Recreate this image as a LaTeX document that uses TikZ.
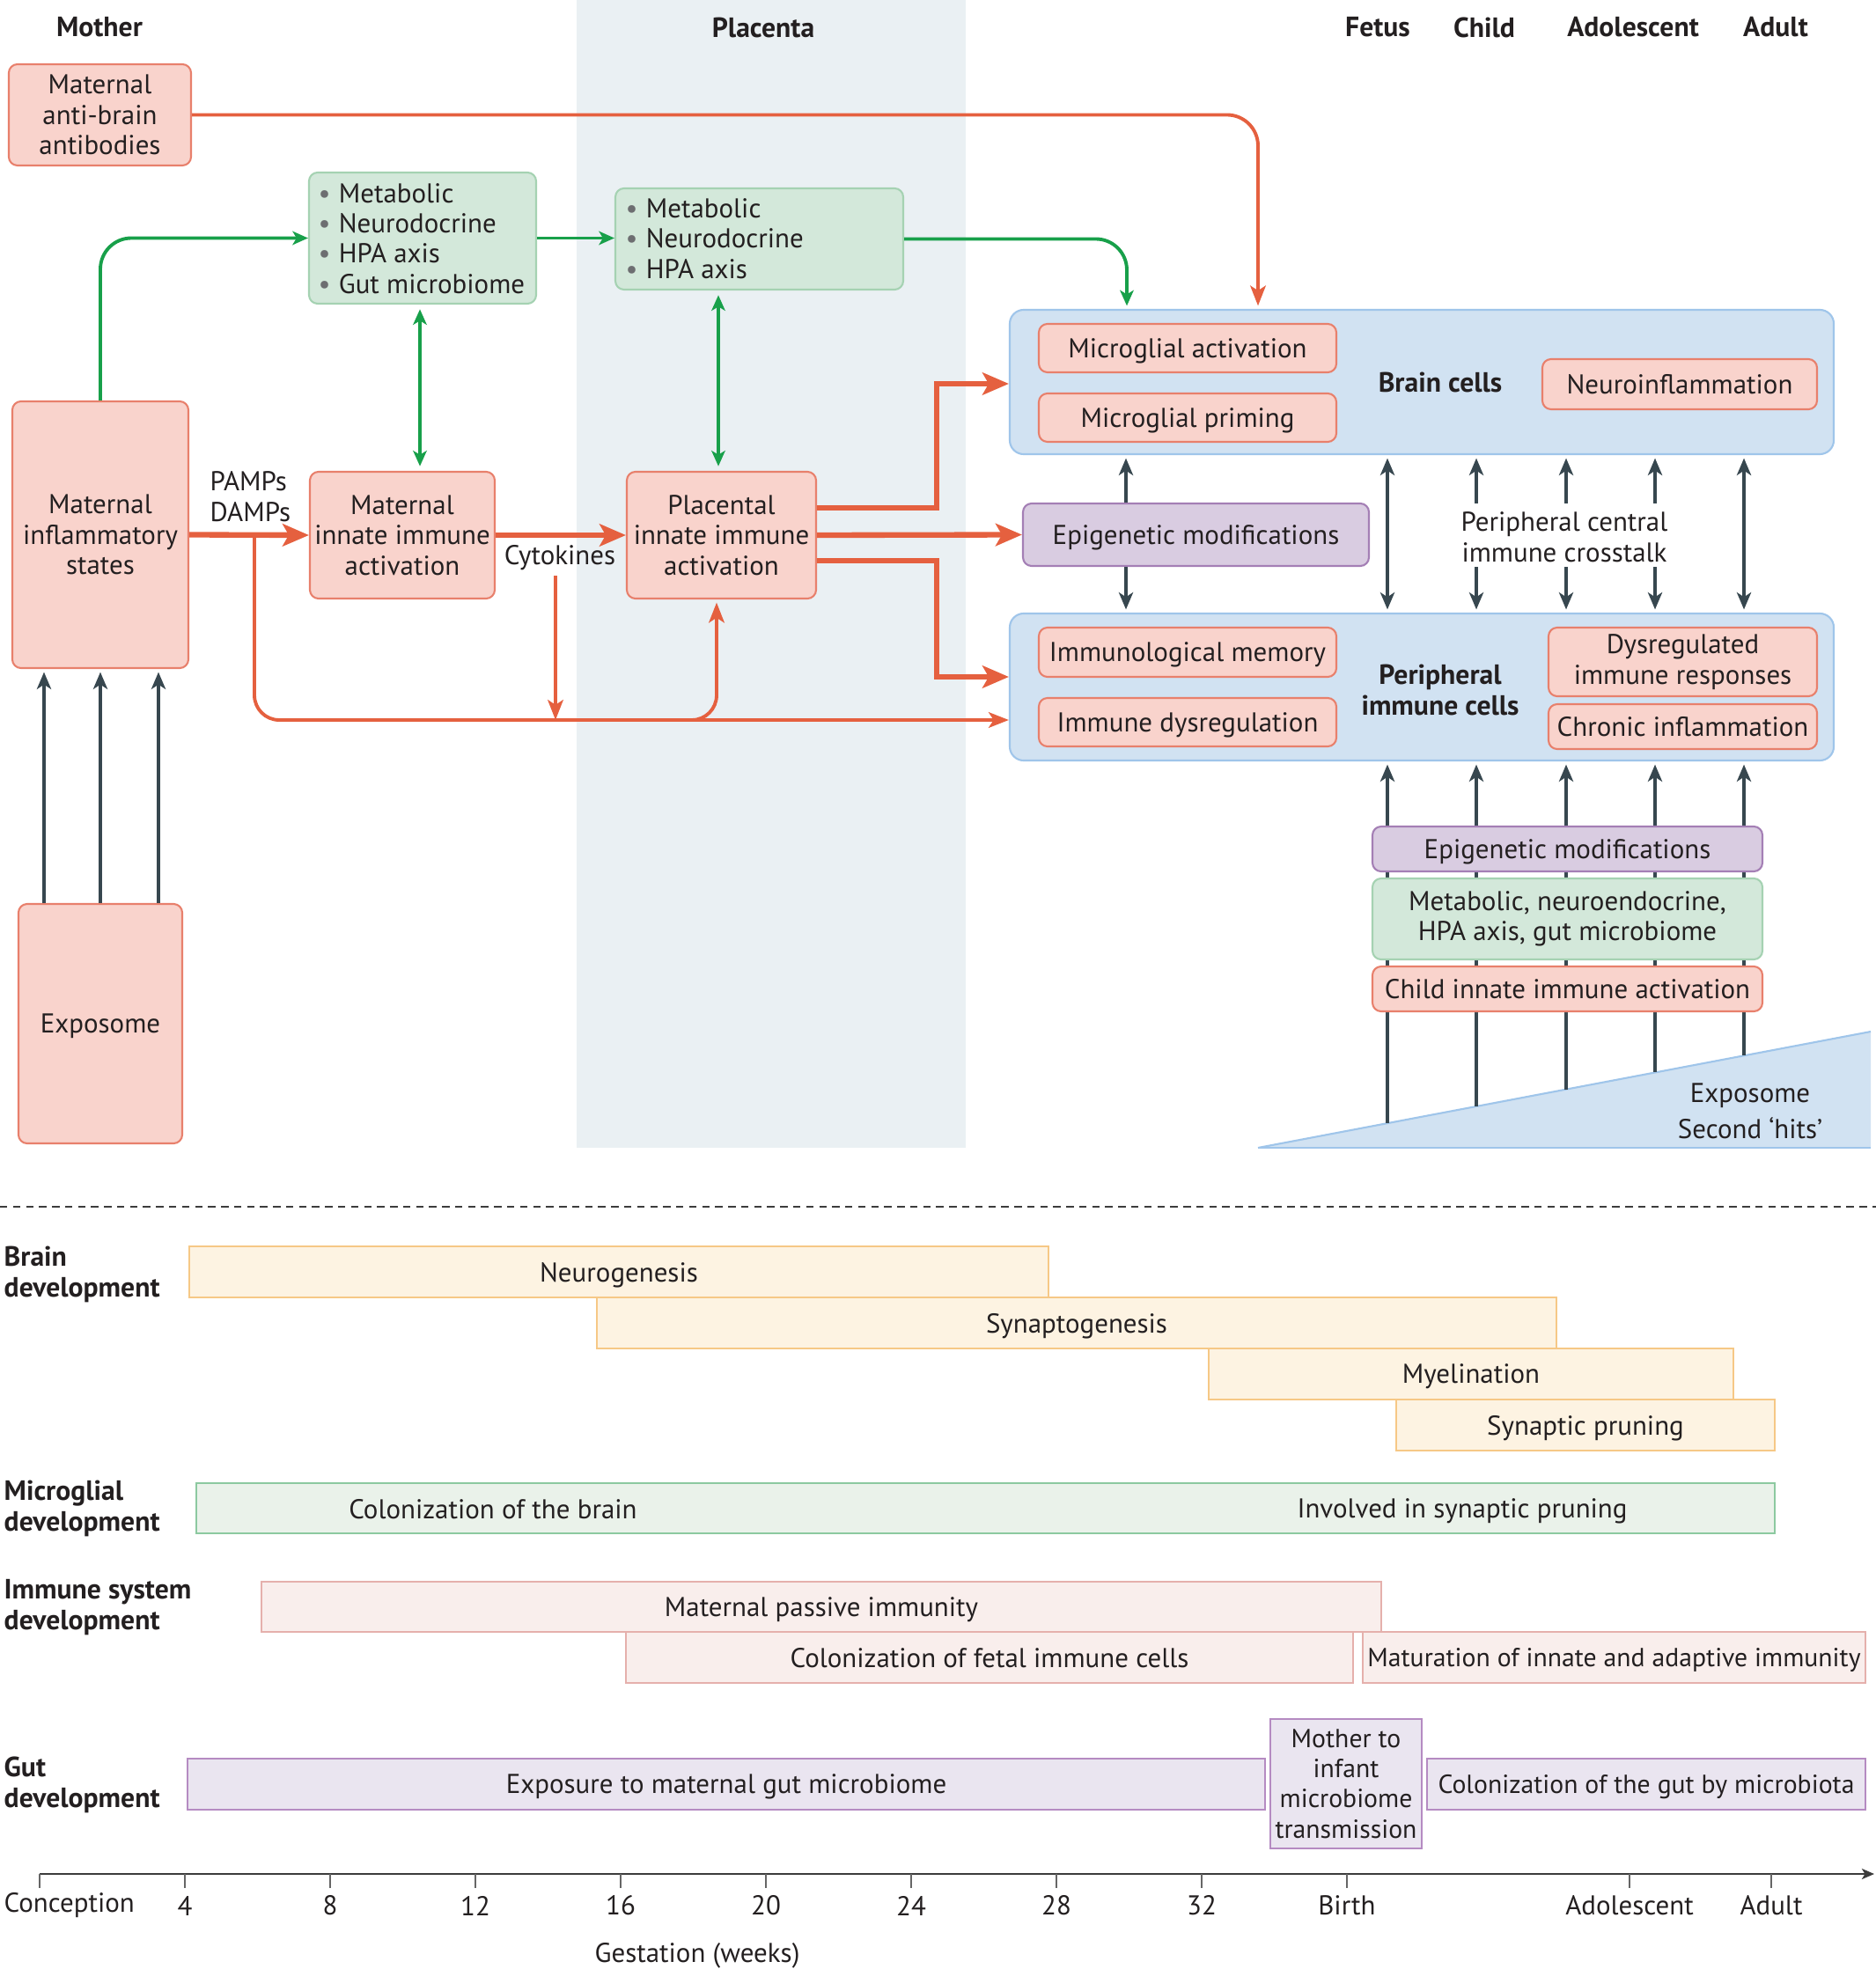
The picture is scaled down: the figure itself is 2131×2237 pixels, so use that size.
\documentclass[tikz,border=0pt]{standalone}
\usepackage{fontspec}
\setmainfont{PT Sans}
\usetikzlibrary{arrows.meta,calc}
\definecolor{txt}{HTML}{231F20}
\definecolor{pinkF}{HTML}{F9D3CC}
\definecolor{pinkD}{HTML}{E8806C}
\definecolor{greenF}{HTML}{D3E8DA}
\definecolor{greenD}{HTML}{A5D2B2}
\definecolor{purpF}{HTML}{D9CCE1}
\definecolor{purpD}{HTML}{A47FB5}
\definecolor{blueF}{HTML}{D1E2F2}
\definecolor{blueD}{HTML}{9FC5EA}
\definecolor{placF}{HTML}{EAF0F3}
\definecolor{redA}{HTML}{E5603F}
\definecolor{greenA}{HTML}{18A04A}
\definecolor{darkA}{HTML}{37474F}
\definecolor{creamF}{HTML}{FDF3E2}
\definecolor{creamD}{HTML}{F6C886}
\definecolor{mgF}{HTML}{EAF2EA}
\definecolor{mgD}{HTML}{8CC9A0}
\definecolor{imF}{HTML}{F9EEEC}
\definecolor{imD}{HTML}{E5B0AC}
\definecolor{gutF}{HTML}{EAE5F0}
\definecolor{gutD}{HTML}{B58BC2}
\definecolor{bulletc}{HTML}{6D6E71}
\definecolor{axisc}{HTML}{3C3C3C}
\newcommand\bodyfs{\fontsize{8.8}{9.8}\selectfont}
\newcommand\smallfs{\fontsize{8.45}{9.8}\selectfont}
\newcommand\hdrfs{\fontsize{9}{10}\selectfont\bfseries}
\newcommand\bul{{\color{bulletc}\textbullet}\hspace{2.6pt}}
% box node from corners: style, name, x1, y1, x2, y2, text
\newcommand\bx[7]{%
  \pgfmathsetmacro\bxcx{(#3+#5)/2}%
  \pgfmathsetmacro\bxcy{(#4+#6)/2}%
  \pgfmathsetmacro\bxw{(#5-#3)*0.01}%
  \pgfmathsetmacro\bxh{(#6-#4)*0.01}%
  \node[#1, minimum width=\bxw cm, minimum height=\bxh cm, anchor=center] (#2) at (\bxcx,\bxcy) {#7};}
\tikzset{
  rtipS/.tip={Stealth[length=6.5pt,width=5pt,inset=1.6pt]},
  rtipL/.tip={Stealth[length=8.5pt,width=7.2pt,inset=2pt]},
  gtip/.tip={Stealth[length=5pt,width=4.4pt,inset=1.3pt]},
  dtip/.tip={Stealth[length=5.5pt,width=4.6pt,inset=1.5pt]},
  atip/.tip={Stealth[length=4pt,width=3.4pt,inset=1pt]},
}
\begin{document}
\begin{tikzpicture}[x=0.01cm,y=-0.01cm,
  every node/.style={font=\bodyfs, text=txt, inner sep=0pt},
  box/.style={draw, rounded corners=2.8pt, align=center, line width=0.6pt},
  sl/.style={text depth=0pt},
  pinkbox/.style={box, fill=pinkF, draw=pinkD},
  greenbox/.style={box, fill=greenF, draw=greenD},
  purpbox/.style={box, fill=purpF, draw=purpD},
  bluebox/.style={box, fill=blueF, draw=blueD, rounded corners=4.5pt},
  hdr/.style={font=\hdrfs},
  catlbl/.style={font=\hdrfs, align=left, anchor=west},
  bar/.style={draw, line width=0.6pt, align=center},
  creambar/.style={bar, fill=creamF, draw=creamD},
  mgbar/.style={bar, fill=mgF, draw=mgD},
  imbar/.style={bar, fill=imF, draw=imD},
  gutbar/.style={bar, fill=gutF, draw=gutD},
  redthin/.style={draw=redA, line width=1.1pt, -rtipS},
  redthick/.style={draw=redA, line width=1.8pt, -rtipL},
  greenarr/.style={draw=greenA, line width=1.1pt, -gtip},
  darkarr/.style={draw=darkA, line width=1.2pt, -dtip},
  tick/.style={draw=gray!80!black, line width=0.5pt},
]
\useasboundingbox (0,0) rectangle (2131,2237);
% placenta band
\fill[placF] (655,0) rectangle (1097,1304);
% exposome triangle
\coordinate (tA) at (1429,1304);
\coordinate (tB) at (2125,1172);
\coordinate (tC) at (2125,1304);
\fill[blueF] (tA) -- (tB) -- (tC) -- cycle;
\draw[blueD, line width=0.6pt] (tA) -- (tB);
\draw[blueD, line width=0.6pt] (tA) -- (tC);
\node[align=center] (expo2) at (1988,1262) {Exposome\\[1.8pt]Second ‘hits’};

% headers
\node[hdr] (hMother) at (113,31) {Mother};
\node[hdr] (hPlacenta) at (867,31) {Placenta};
\node[hdr] (hFetus) at (1565,31) {Fetus};
\node[hdr] (hChild) at (1686,31) {Child};
\node[hdr] (hAdol) at (1855,31) {Adolescent};
\node[hdr] (hAdult) at (2017,31) {Adult};

% top boxes
\bx{pinkbox}{anti}{10}{73}{217}{188}{Maternal\\anti-brain\\antibodies}
\bx{greenbox}{g1}{351}{196}{609}{345}{}
\node[anchor=west, align=left] (g1t) at (361,271) {\bul Metabolic\\\bul Neurodocrine\\\bul HPA axis\\\bul Gut microbiome};
\bx{greenbox}{g2}{699}{214}{1026}{329}{}
\node[anchor=west, align=left] (g2t) at (710,271) {\bul Metabolic\\\bul Neurodocrine\\\bul HPA axis};
\bx{pinkbox}{infl}{14}{456}{214}{759}{Maternal\\inflammatory\\states}
\bx{pinkbox}{mia}{352}{536}{562}{680}{Maternal\\innate immune\\activation}
\bx{pinkbox}{pia}{712}{536}{927}{680}{Placental\\innate immune\\activation}
\bx{pinkbox,sl}{expo}{21}{1027}{207}{1299}{Exposome}
\node[anchor=west, align=left] (pamps) at (238,564) {PAMPs\\DAMPs};
\node (cyt) at (636,634) {Cytokines};

% brain cells
\bx{bluebox}{brain}{1147}{352}{2083}{516}{}
\bx{pinkbox,sl}{ma}{1180}{368}{1518}{423}{Microglial activation}
\bx{pinkbox,sl}{mp}{1180}{447}{1518}{502}{Microglial priming}
\bx{pinkbox,sl}{ni}{1752}{408}{2064}{465}{Neuroinflammation}
\node[hdr] (brainl) at (1636,434) {Brain cells};
\bx{purpbox,sl}{epi}{1162}{572}{1555}{643}{Epigenetic modifications}
% peripheral
\bx{bluebox}{periph}{1147}{697}{2083}{864}{}
\bx{pinkbox,sl}{im}{1180}{713}{1518}{769}{Immunological memory}
\bx{pinkbox,sl}{idys}{1180}{793}{1518}{848}{Immune dysregulation}
\bx{pinkbox}{dys}{1759}{713}{2064}{791}{Dysregulated\\immune responses}
\bx{pinkbox,sl}{chr}{1759}{800}{2064}{851}{Chronic inflammation}
\node[hdr, align=center] (periphl) at (1636,784) {Peripheral\\immune cells};
\node[align=center] (xtalk) at (1777,610) {Peripheral central\\immune crosstalk};

% coordinates
\coordinate (xA) at (1429,0);
\coordinate (xG) at (1280,0);
\coordinate (xg1) at (477,0);
\coordinate (xg2) at (816,0);
\coordinate (b1) at (289,607);
\coordinate (yb) at (0,818);
\coordinate (c2) at (740,818);
\coordinate (v2) at (814,0);
\coordinate (c3) at (631,654);
\coordinate (yU) at (0,577);
\coordinate (yL) at (0,637);
\coordinate (yB) at (0,436);
\coordinate (yI) at (0,769);
\coordinate (xr) at (1064,0);
\coordinate (x1) at (1279,0);
\coordinate (x2) at (1576,0);
\coordinate (x6) at (1981,0);
\coordinate (e1) at (50,0);
\coordinate (e2) at (114,0);
\coordinate (e3) at (180,0);

% green arrows
\draw[greenarr, rounded corners=10pt] (infl.north -| e2) |- (g1.west);
\draw[greenarr] (g1.east) -- (g2.west |- g1.east);
\draw[greenarr, rounded corners=10pt, shorten >=1pt] (g2.east) -| (brain.north -| xG);
\draw[greenarr, gtip-gtip, shorten >=1.5pt, shorten <=1.5pt] (g1.south -| xg1) -- (mia.north -| xg1);
\draw[greenarr, gtip-gtip, shorten >=1.5pt, shorten <=1.5pt] (g2.south -| xg2) -- (pia.north -| xg2);

% red arrows
\draw[redthin, rounded corners=10pt, shorten >=1pt] (anti.east) -| (brain.north -| xA);
\draw[redthin, rounded corners=8pt] (b1) |- (periph.west |- yb);
\draw[redthin, rounded corners=8pt, shorten >=1pt] (c2) -| (pia.south -| v2);
\draw[redthin] (c3) -- (c3 |- yb);
\draw[redthick] (infl.east) -- (mia.west);
\draw[redthick] (mia.east) -- (pia.west);
\draw[redthick] (pia.east |- yU) -| (xr |- yB) -- (brain.west |- yB);
\draw[redthick] (pia.east) -- (epi.west);
\draw[redthick] (pia.east |- yL) -| (xr |- yI) -- (periph.west |- yI);

% dark arrows brain-periph
\draw[darkarr, shorten >=1pt] (epi.north -| x1) -- (brain.south -| x1);
\draw[darkarr, shorten >=1pt] (epi.south -| x1) -- (periph.north -| x1);
\draw[darkarr, dtip-dtip, shorten >=1pt, shorten <=1pt] (brain.south -| x2) -- (periph.north -| x2);
\draw[darkarr, dtip-dtip, shorten >=1pt, shorten <=1pt] (brain.south -| x6) -- (periph.north -| x6);
\coordinate (u3) at (1677,572);
\coordinate (u4) at (1779,572);
\coordinate (u5) at (1880,572);
\coordinate (d3) at (1677,644);
\coordinate (d4) at (1779,644);
\coordinate (d5) at (1880,644);
\draw[darkarr, shorten >=1pt] (u3) -- (brain.south -| u3);
\draw[darkarr, shorten >=1pt] (u4) -- (brain.south -| u4);
\draw[darkarr, shorten >=1pt] (u5) -- (brain.south -| u5);
\draw[darkarr, shorten >=1pt] (d3) -- (periph.north -| d3);
\draw[darkarr, shorten >=1pt] (d4) -- (periph.north -| d4);
\draw[darkarr, shorten >=1pt] (d5) -- (periph.north -| d5);

% exposome arrows to maternal inflammatory
\draw[darkarr, shorten >=1pt] (expo.north -| e1) -- (infl.south -| e1);
\draw[darkarr, shorten >=1pt] (expo.north -| e2) -- (infl.south -| e2);
\draw[darkarr, shorten >=1pt] (expo.north -| e3) -- (infl.south -| e3);

% child arrows from exposome triangle
\coordinate (h1) at (1576,1276);
\coordinate (h2) at (1677,1257);
\coordinate (h3) at (1779,1238);
\coordinate (h4) at (1880,1218);
\coordinate (h5) at (1981,1199);
\draw[darkarr, shorten >=1pt] (h1) -- (periph.south -| h1);
\draw[darkarr, shorten >=1pt] (h2) -- (periph.south -| h2);
\draw[darkarr, shorten >=1pt] (h3) -- (periph.south -| h3);
\draw[darkarr, shorten >=1pt] (h4) -- (periph.south -| h4);
\draw[darkarr, shorten >=1pt] (h5) -- (periph.south -| h5);
\bx{purpbox,sl}{epi2}{1559}{939}{2002}{990}{Epigenetic modifications}
\bx{greenbox}{met}{1559}{998}{2002}{1090}{Metabolic, neuroendocrine,\\HPA axis, gut microbiome}
\bx{pinkbox,sl}{child}{1559}{1098}{2002}{1149}{Child innate immune activation}

% dashed separator
\coordinate (dl) at (0,1371);
\coordinate (dr) at (2131,1371);
\draw[axisc, line width=0.6pt, dash pattern=on 2.4pt off 1.8pt] (dl) -- (dr);

% category labels
\node[catlbl] (cBrain) at (4,1448) {Brain\\development};
\node[catlbl] (cMg) at (4,1714) {Microglial\\development};
\node[catlbl] (cIm) at (4,1826) {Immune system\\development};
\node[catlbl] (cGut) at (4,2028) {Gut\\development};

% bars
\bx{creambar,sl}{neuro}{215}{1416}{1191}{1474}{Neurogenesis}
\bx{creambar,sl}{synap}{678}{1474}{1768}{1532}{Synaptogenesis}
\bx{creambar,sl}{myel}{1373}{1532}{1969}{1590}{Myelination}
\bx{creambar,sl}{prun}{1586}{1590}{2016}{1648}{Synaptic pruning}
\bx{mgbar}{mglia}{223}{1685}{2016}{1742}{}
\node[sl] (mgt1) at (560,1714) {Colonization of the brain};
\node[sl] (mgt2) at (1661,1714) {Involved in synaptic pruning};
\bx{imbar,sl}{mpi}{297}{1797}{1569}{1854}{Maternal passive immunity}
\bx{imbar,sl}{cfi}{711}{1854}{1537}{1912}{Colonization of fetal immune cells}
\bx{imbar,sl,font=\smallfs}{mat}{1548}{1854}{2119}{1912}{Maturation of innate and adaptive immunity}
\bx{gutbar,sl}{expg}{213}{1998}{1437}{2056}{Exposure to maternal gut microbiome}
\bx{gutbar,font=\smallfs}{m2i}{1443}{1953}{1615}{2100}{Mother to\\infant\\microbiome\\transmission}
\bx{gutbar,sl,font=\smallfs}{colg}{1621}{1998}{2119}{2056}{Colonization of the gut by microbiota}

% axis
\coordinate (ax0) at (45,2129);
\coordinate (ax1) at (2129,2129);
\draw[axisc, line width=0.7pt, -atip] (ax0) -- (ax1);
\foreach \xx/\lab in {210/4,375/8,540/12,705/16,870/20,1035/24,1200/28,1365/32,1530/Birth,1851/Adolescent,2012/Adult}{
  \draw[tick] (\xx,2129) -- (\xx,2145);
  \node (lab\xx) at (\xx,2165) {\lab};
}
\draw[tick] (45,2129) -- (45,2145);
\node[anchor=west] (labConc) at (4,2165) {Conception};
\node (gest) at (792,2222) {Gestation (weeks)};
\end{tikzpicture}
\end{document}
